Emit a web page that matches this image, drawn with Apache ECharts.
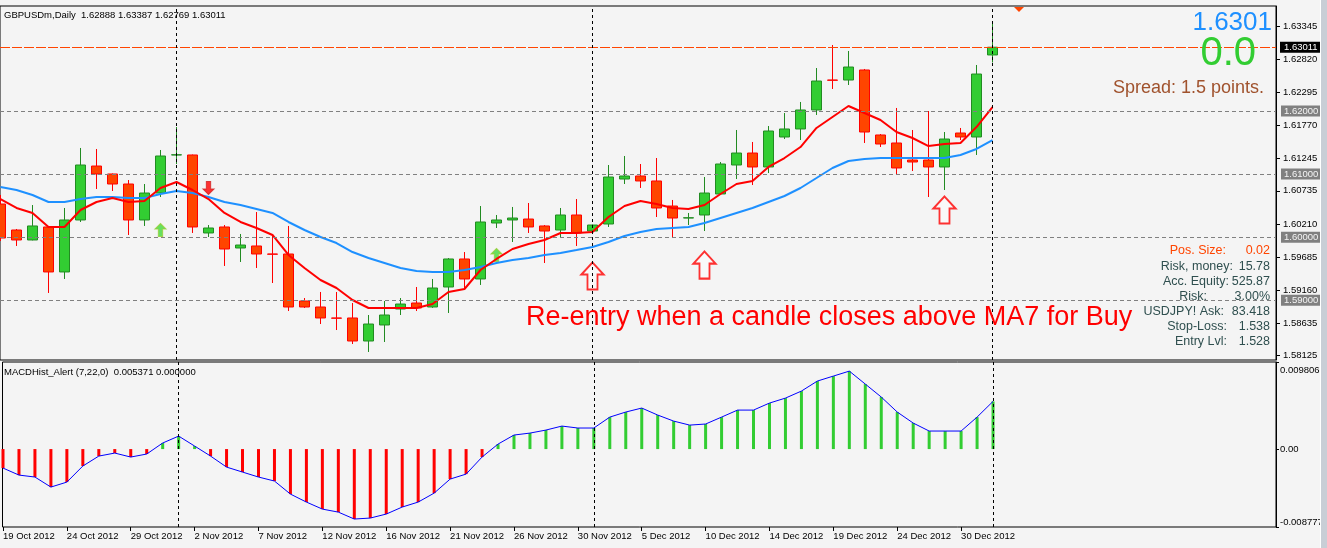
<!DOCTYPE html>
<html>
<head>
<meta charset="utf-8">
<script src="https://cdn.jsdelivr.net/npm/echarts@6.0.0/dist/echarts.min.js"></script>
<style>
  html, body { margin: 0; padding: 0; background: #f4f4f4; }
  #chart { width: 1327px; height: 548px; }
</style>
</head>
<body>
<div id="chart"></div>
<script>
// daily bars, GBPUSDm
const dates = [
  '19 Oct 2012','21 Oct 2012','22 Oct 2012','23 Oct 2012','24 Oct 2012','25 Oct 2012','26 Oct 2012','28 Oct 2012','29 Oct 2012','30 Oct 2012',
  '31 Oct 2012','1 Nov 2012','2 Nov 2012','4 Nov 2012','5 Nov 2012','6 Nov 2012','7 Nov 2012','8 Nov 2012','9 Nov 2012','11 Nov 2012',
  '12 Nov 2012','13 Nov 2012','14 Nov 2012','15 Nov 2012','16 Nov 2012','18 Nov 2012','19 Nov 2012','20 Nov 2012','21 Nov 2012','22 Nov 2012',
  '23 Nov 2012','25 Nov 2012','26 Nov 2012','27 Nov 2012','28 Nov 2012','29 Nov 2012','30 Nov 2012','2 Dec 2012','3 Dec 2012','4 Dec 2012',
  '5 Dec 2012','6 Dec 2012','7 Dec 2012','9 Dec 2012','10 Dec 2012','11 Dec 2012','12 Dec 2012','13 Dec 2012','14 Dec 2012','16 Dec 2012',
  '17 Dec 2012','18 Dec 2012','19 Dec 2012','20 Dec 2012','21 Dec 2012','23 Dec 2012','24 Dec 2012','26 Dec 2012','27 Dec 2012','28 Dec 2012',
  '30 Dec 2012','31 Dec 2012','2 Jan 2013'
];

const opens = [
  1.60526,1.60114,1.59956,1.60162,1.59449,1.60273,1.61128,1.61002,1.60843,1.60273,
  1.60700,1.61303,1.61303,1.60067,1.60162,1.59829,1.59861,1.59734,1.59734,1.58989,
  1.58894,1.58720,1.58720,1.58355,1.58609,1.58862,1.58957,1.58894,1.59211,1.59655,
  1.59338,1.60225,1.60273,1.60288,1.60178,1.60114,1.60352,1.60098,1.60209,1.60922,
  1.60970,1.60891,1.60494,1.60304,1.60352,1.60685,1.61144,1.61334,1.61113,1.61588,
  1.61715,1.62016,1.62491,1.62491,1.62650,1.61620,1.61493,1.61223,1.61223,1.61113,
  1.61651,1.61588,1.62888
];
const closes = [
  1.59987,1.59956,1.60178,1.59449,1.60273,1.61144,1.61002,1.60843,1.60273,1.60700,
  1.61287,1.61306,1.60162,1.60146,1.59813,1.59876,1.59734,1.59730,1.58894,1.58894,
  1.58720,1.58716,1.58355,1.58624,1.58767,1.58941,1.58878,1.59195,1.59655,1.59338,
  1.60241,1.60273,1.60304,1.60162,1.60098,1.60352,1.60067,1.60193,1.60954,1.60970,
  1.60891,1.60463,1.60304,1.60308,1.60700,1.61160,1.61334,1.61113,1.61683,1.61715,
  1.62016,1.62475,1.62487,1.62697,1.61667,1.61477,1.61097,1.61192,1.61113,1.61556,
  1.61588,1.62586,1.63011
];
const lows = [
  1.59940,1.59861,1.59950,1.59116,1.59338,1.60241,1.60764,1.60732,1.60035,1.60178,
  1.60637,1.61160,1.60067,1.60003,1.59544,1.59607,1.59512,1.59274,1.58830,1.58878,
  1.58624,1.58529,1.58307,1.58181,1.58339,1.58767,1.58830,1.58880,1.58799,1.59195,
  1.59243,1.60146,1.59924,1.60067,1.59591,1.60003,1.59861,1.60090,1.60162,1.60843,
  1.60780,1.60320,1.59987,1.60193,1.60098,1.60670,1.60922,1.60827,1.61017,1.61556,
  1.61540,1.61937,1.62349,1.62412,1.61493,1.61429,1.60986,1.61049,1.60637,1.60748,
  1.61540,1.61303,1.62769
];
const highs = [
  1.60669,1.60130,1.60510,1.60178,1.60463,1.61414,1.61398,1.61010,1.60906,1.60843,
  1.61382,1.61746,1.61310,1.60193,1.60193,1.60051,1.60399,1.60035,1.60178,1.59036,
  1.59132,1.59132,1.58957,1.58767,1.58989,1.59036,1.59211,1.59338,1.59670,1.59765,
  1.60494,1.60352,1.60479,1.60542,1.60193,1.60463,1.60605,1.60200,1.61144,1.61287,
  1.61160,1.61255,1.60590,1.60384,1.60954,1.61192,1.61699,1.61509,1.61762,1.61968,
  1.62143,1.62681,1.63046,1.62951,1.62666,1.61635,1.62048,1.61699,1.62000,1.61667,
  1.61731,1.62729,1.63387
];

// MA7 (red) and the slower MA (blue)
const ma7 = [
  1.60605,1.60463,1.60384,1.60162,1.60162,1.60431,1.60558,1.60621,1.60558,1.60574,
  1.60780,1.60875,1.60748,1.60605,1.60384,1.60241,1.60146,1.60035,1.59718,1.59512,
  1.59322,1.59195,1.59005,1.58878,1.58878,1.58878,1.58878,1.58941,1.59132,1.59179,
  1.59480,1.59655,1.59813,1.59892,1.59956,1.60067,1.60067,1.60082,1.60320,1.60494,
  1.60574,1.60526,1.60463,1.60447,1.60510,1.60685,1.60843,1.60891,1.61113,1.61255,
  1.61429,1.61731,1.61905,1.62079,1.61968,1.61857,1.61667,1.61572,1.61445,1.61477,
  1.61493,1.61746,1.62063
];
const maSlow = [
  1.60796,1.60748,1.60669,1.60558,1.60558,1.60605,1.60637,1.60637,1.60621,1.60621,
  1.60685,1.60732,1.60700,1.60637,1.60558,1.60510,1.60447,1.60384,1.60241,1.60114,
  1.60003,1.59908,1.59765,1.59670,1.59591,1.59512,1.59464,1.59449,1.59449,1.59480,
  1.59528,1.59591,1.59639,1.59670,1.59718,1.59750,1.59797,1.59845,1.59924,1.60019,
  1.60082,1.60130,1.60146,1.60162,1.60225,1.60304,1.60384,1.60463,1.60558,1.60653,
  1.60780,1.60938,1.61097,1.61208,1.61239,1.61255,1.61255,1.61255,1.61255,1.61255,
  1.61303,1.61398,1.61540
];

// MACDHist_Alert (7,22,0)
const macdHist = [
  -0.00214,-0.00293,-0.00315,-0.00428,-0.00372,-0.00191,-0.00079,-0.00045,-0.00090,-0.00056,
  0.00068,0.00146,0.00034,-0.00079,-0.00203,-0.00259,-0.00315,-0.00360,-0.00507,-0.00597,
  -0.00676,-0.00710,-0.00788,-0.00777,-0.00732,-0.00653,-0.00597,-0.00496,-0.00338,-0.00282,
  -0.00090,0.00056,0.00158,0.00180,0.00214,0.00259,0.00237,0.00237,0.00360,0.00417,
  0.00462,0.00383,0.00315,0.00270,0.00282,0.00360,0.00439,0.00439,0.00518,0.00574,
  0.00653,0.00766,0.00822,0.00878,0.00732,0.00586,0.00417,0.00293,0.00203,0.00203,
  0.00203,0.00360,0.00537
];

const priceTicks = [1.63345,1.62820,1.62295,1.61770,1.61245,1.60735,1.60210,1.59685,1.59160,1.58635,1.58125];
const macdTicks = [0.009806, 0, -0.008777];
const dateTickBars = [0,4,8,12,16,20,24,28,32,36,40,44,48,52,56,60];
const levelPrices = [1.62, 1.61, 1.60, 1.59];
const bidPrice = 1.63011;
const monthSeparators = [11, 37, 62];

// signal arrows: [bar, price]
const buyArrows = [[10, 1.60114], [31, 1.59718]];
const sellArrows = [[13, 1.60780]];
const entryArrows = [[37, 1.59385], [44, 1.59559], [59, 1.60431]];

const FONT = '"Liberation Sans", Arial, sans-serif';
const pair = arr => arr.map((v, i) => [i, v]);
const candles = opens.map((o, i) => [i, o, closes[i], lows[i], highs[i]]);

const xMin = -0.03125, xMax = 79.72;

const chart = echarts.init(document.getElementById('chart'), null, {renderer: 'canvas'});

const sepLines = monthSeparators.map(b => ({
  xAxis: b,
  lineStyle: {color: '#000', type: [3, 3], width: 1},
  label: {show: false}
}));

const text = (t, x, y, size, color, align) => ({
  type: 'text', z: 100, silent: true,
  style: {
    text: t, x: x, y: y, fill: color,
    font: size + 'px ' + FONT,
    align: align, textAlign: align,
    verticalAlign: 'middle', textVerticalAlign: 'middle'
  }
});

const infoRows = [
  ['Pos. Size:', '0.02', 1226, '#FF4500'],
  ['Risk, money:', '15.78', 1233, '#2F4F4F'],
  ['Acc. Equity:', '525.87', 1229, '#2F4F4F'],
  ['Risk:', '3.00%', 1207, '#2F4F4F'],
  ['USDJPY! Ask:', '83.418', 1224, '#2F4F4F'],
  ['Stop-Loss:', '1.538', 1227, '#2F4F4F'],
  ['Entry Lvl:', '1.528', 1227, '#2F4F4F']
];
const infoGraphics = [];
infoRows.forEach((r, k) => {
  const y = 251 + k * 15.1;
  infoGraphics.push(text(r[0], r[2], y, 12.5, r[3], 'right'));
  infoGraphics.push(text(r[1], 1270, y, 12.5, r[3], 'right'));
});

const levelLabel = {
  show: true, position: 'end', distance: 5,
  backgroundColor: '#808080', color: '#f4f4f4', padding: [1, 3, 0, 3], fontSize: 9.5, fontFamily: FONT
};

chart.setOption({
  animation: false,
  backgroundColor: '#f4f4f4',
  textStyle: {fontFamily: FONT},
  grid: [
    {left: 0, top: 6, width: 1276, height: 354, show: true, backgroundColor: '#f4f4f4', borderColor: '#000', borderWidth: 1},
    {left: 0, top: 362, width: 1276, height: 165, show: true, backgroundColor: '#f4f4f4', borderColor: '#000', borderWidth: 1}
  ],
  xAxis: [
    {
      gridIndex: 0, type: 'value', min: xMin, max: xMax,
      axisLine: {show: false, onZero: false}, axisTick: {show: false}, axisLabel: {show: false}, splitLine: {show: false}
    },
    {
      gridIndex: 1, type: 'value', min: xMin, max: xMax,
      axisLine: {show: false, onZero: false},
      axisTick: {show: true, length: 4, customValues: dateTickBars, lineStyle: {color: '#000'}},
      axisLabel: {
        customValues: dateTickBars, formatter: v => dates[v],
        align: 'left', margin: 4, fontSize: 9.5, color: '#000', fontFamily: FONT
      },
      splitLine: {show: false}
    }
  ],
  yAxis: [
    {
      gridIndex: 0, type: 'value', position: 'right', min: 1.580539, max: 1.63664,
      axisLine: {show: true, onZero: false, lineStyle: {color: '#000'}},
      axisTick: {show: true, length: 4, customValues: priceTicks, lineStyle: {color: '#000'}},
      axisLabel: {customValues: priceTicks, formatter: v => v.toFixed(5), margin: 7, fontSize: 9.5, color: '#000', fontFamily: FONT},
      splitLine: {show: false}
    },
    {
      gridIndex: 1, type: 'value', position: 'right', min: macdTicks[2], max: macdTicks[0],
      axisLine: {show: true, onZero: false, lineStyle: {color: '#000'}},
      axisTick: {show: true, length: 3, customValues: macdTicks, lineStyle: {color: '#000'}},
      axisLabel: {
        customValues: macdTicks, margin: 4, fontSize: 9.5, color: '#000', fontFamily: FONT,
        formatter: v => v === macdTicks[0] ? '{hi|' + v.toFixed(6) + '}'
          : v === macdTicks[2] ? '{lo|' + v.toFixed(6) + '}' : '0.00',
        rich: {
          hi: {padding: [16, 0, 0, 0], fontSize: 9.5, color: '#000', fontFamily: FONT},
          lo: {padding: [0, 0, 10, 0], fontSize: 9.5, color: '#000', fontFamily: FONT}
        }
      },
      splitLine: {show: false}
    }
  ],
  series: [
    {
      type: 'candlestick', xAxisIndex: 0, yAxisIndex: 0,
      data: candles, encode: {x: 0, y: [1, 2, 3, 4]},
      barWidth: 10,
      itemStyle: {color: '#32CD32', color0: '#FF4500', borderColor: '#228B22', borderColor0: '#FF0000', borderWidth: 1},
      markLine: {
        symbol: 'none', silent: true, animation: false, precision: 5,
        data: levelPrices.map(p => ({
          yAxis: p,
          lineStyle: {color: '#808080', type: [4, 3], width: 1},
          label: Object.assign({formatter: p.toFixed(5)}, levelLabel)
        })).concat([{
          yAxis: bidPrice,
          lineStyle: {color: '#FF4500', type: [10, 2], width: 1, opacity: 1},
          label: Object.assign({}, levelLabel, {
            formatter: bidPrice.toFixed(5), backgroundColor: '#000', color: '#fff', distance: 4, padding: [1, 4, 0, 4]
          })
        }]).concat(sepLines)
      }
    },
    {
      type: 'line', xAxisIndex: 0, yAxisIndex: 0, data: pair(maSlow),
      symbol: 'none', lineStyle: {color: '#1E90FF', width: 2}
    },
    {
      type: 'line', xAxisIndex: 0, yAxisIndex: 0, data: pair(ma7),
      symbol: 'none', lineStyle: {color: '#FF0000', width: 2}
    },
    {
      type: 'scatter', xAxisIndex: 0, yAxisIndex: 0, data: buyArrows,
      symbol: 'path://M5,0 L10,5 L7,5 L7,12 L3,12 L3,5 L0,5 Z', symbolSize: [11, 13],
      itemStyle: {color: '#44D93A', borderColor: '#9ACD32', borderWidth: 1}
    },
    {
      type: 'scatter', xAxisIndex: 0, yAxisIndex: 0, data: sellArrows,
      symbol: 'path://M3,0 L7,0 L7,7 L10,7 L5,12 L0,7 L3,7 Z', symbolSize: [11, 13],
      itemStyle: {color: '#FF0000', borderColor: '#D02020', borderWidth: 1}
    },
    {
      type: 'scatter', xAxisIndex: 0, yAxisIndex: 0, data: entryArrows,
      symbol: 'path://M11,0 L22,12 L16,12 L16,27 L6,27 L6,12 L0,12 Z', symbolSize: [22, 27],
      itemStyle: {color: 'rgba(255,255,255,0.6)', borderColor: '#FF0000', borderWidth: 2}
    },
    {
      type: 'bar', xAxisIndex: 1, yAxisIndex: 1, data: pair(macdHist), barWidth: 3,
      itemStyle: {color: p => p.value[1] < 0 ? '#FF0000' : '#32CD32'},
      markLine: {symbol: 'none', silent: true, animation: false, data: sepLines}
    },
    {
      type: 'line', xAxisIndex: 1, yAxisIndex: 1, data: pair(macdHist),
      symbol: 'none', lineStyle: {color: '#0000FF', width: 1}
    }
  ],
  graphic: [
    text('GBPUSDm,Daily  1.62888 1.63387 1.62769 1.63011', 4, 15, 9.5, '#000', 'left'),
    text('MACDHist_Alert (7,22,0)  0.005371 0.000000', 4, 372, 9.5, '#000', 'left'),
    text('1.6301', 1272, 23, 26, '#1E90FF', 'right'),
    text('0.0', 1256, 54, 40, '#32CD32', 'right'),
    text('Spread: 1.5 points.', 1264, 88, 18, '#A0522D', 'right'),
    text('Re-entry when a candle closes above MA7 for Buy', 526, 318, 27, '#FF0000', 'left')
  ].concat(infoGraphics).concat([
    {type: 'polygon', z: 100, silent: true, shape: {points: [[1014, 7], [1024, 7], [1019, 12]]}, style: {fill: '#FF4500'}},
    {type: 'rect', z: 110, silent: true, shape: {x: 1320, y: 0, width: 7, height: 548}, style: {fill: '#C9CED6'}},
    {type: 'line', z: 111, silent: true, shape: {x1: 1320.5, y1: 0, x2: 1320.5, y2: 548}, style: {stroke: '#FFFFFF', lineWidth: 1}}
  ])
});
</script>
</body>
</html>
